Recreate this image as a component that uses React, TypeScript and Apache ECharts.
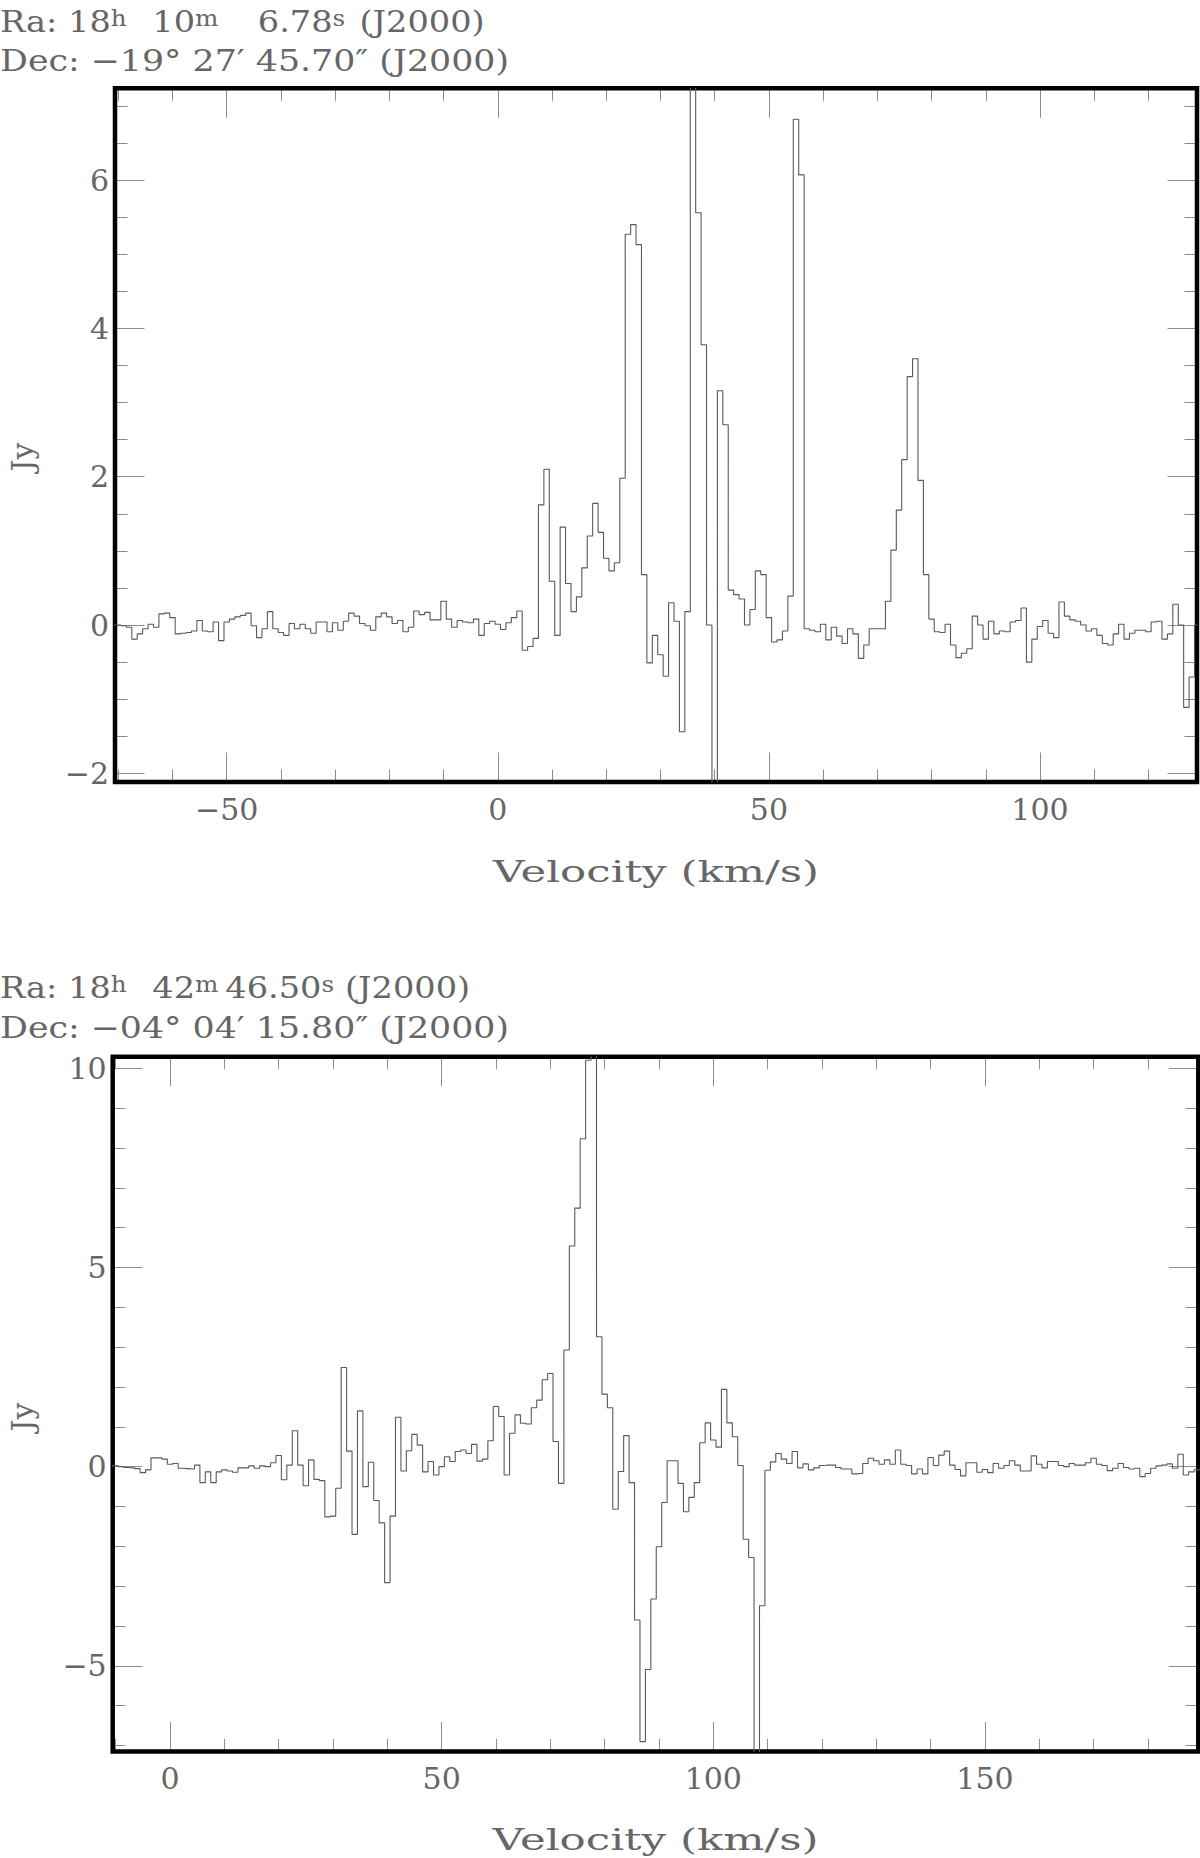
import React, { useEffect, useRef } from 'react';
import * as echarts from 'echarts';

// ---------------- data ----------------
const CHANNEL_WIDTH = 1; // km/s per channel

// Top spectrum: channel centres from -71 km/s, step CHANNEL_WIDTH
const TOP_VELOCITY_START = -71;
const TOP_FLUX = [
  0.00, 0.00, -0.01, -0.03, -0.19, -0.12, -0.05, 0.01, -0.03, 0.15,
  0.16, 0.10, -0.12, -0.11, -0.10, -0.08, 0.06, -0.08, -0.09, 0.04,
  -0.21, 0.04, 0.08, 0.11, 0.13, 0.16, -0.01, -0.17, -0.05, 0.18,
  -0.05, -0.10, -0.14, 0.02, -0.05, 0.01, -0.05, -0.11, 0.04, 0.04,
  -0.09, 0.03, -0.07, 0.05, 0.16, 0.12, 0.02, -0.01, -0.07, 0.11,
  0.16, 0.11, 0.02, 0.06, -0.09, -0.03, 0.19, 0.14, 0.17, 0.07,
  0.07, 0.32, 0.08, -0.03, 0.06, 0.04, 0.03, 0.08, -0.14, 0.02,
  0.05, 0.01, -0.06, 0.03, 0.10, 0.19, -0.34, -0.29, -0.18, 1.62,
  2.10, 0.59, -0.14, 1.32, 0.56, 0.18, 0.38, 0.77, 1.20, 1.64,
  1.25, 0.90, 0.73, 0.84, 1.98, 5.27, 5.40, 5.13, 0.68, -0.51,
  -0.14, -0.40, -0.69, 0.30, 0.05, -1.44, 0.18, 7.80, 5.56, 3.78,
  0.00, -2.80, 3.16, 2.70, 0.47, 0.41, 0.35, 0.00, 0.21, 0.73,
  0.68, 0.10, -0.23, -0.20, -0.08, 0.39, 6.82, 6.07, -0.05, -0.07,
  -0.09, 0.01, -0.20, -0.03, -0.15, -0.25, -0.05, -0.12, -0.45, -0.27,
  -0.05, -0.05, -0.05, 0.32, 1.01, 1.55, 2.23, 3.35, 3.59, 1.95,
  0.68, 0.08, -0.09, -0.10, 0.01, -0.27, -0.44, -0.38, -0.32, 0.12,
  0.00, -0.19, 0.05, -0.12, -0.08, -0.09, 0.04, 0.06, 0.23, -0.50,
  -0.19, -0.02, 0.06, -0.11, -0.17, 0.31, 0.12, 0.07, 0.05, 0.00,
  -0.08, -0.05, -0.14, -0.25, -0.27, -0.12, 0.01, -0.19, -0.11, -0.07,
  -0.07, -0.09, 0.04, 0.05, -0.19, -0.12, 0.28, 0.00, -1.11, -0.70, 0.00,
];

// Bottom spectrum: channel centres from -11 km/s, step CHANNEL_WIDTH
const BOTTOM_VELOCITY_START = -11;
const BOTTOM_FLUX = [
  0.02, 0.02, 0.00, -0.02, -0.03, -0.05, -0.15, -0.08, 0.22, 0.22,
  0.19, 0.06, 0.08, -0.04, -0.05, -0.06, 0.04, -0.40, -0.13, -0.40,
  -0.13, -0.08, -0.11, -0.14, -0.03, -0.03, 0.02, -0.04, 0.02, 0.00,
  0.10, 0.28, -0.33, 0.04, 0.90, 0.04, -0.48, 0.17, -0.32, -0.35,
  -1.26, -1.24, -0.54, 2.49, 0.39, -1.70, 1.40, -0.50, 0.11, -0.85,
  -1.41, -2.91, -1.24, 1.24, -0.11, 0.40, 0.81, 0.54, -0.13, 0.13,
  -0.21, 0.00, 0.25, 0.13, 0.38, 0.42, 0.33, 0.56, 0.14, 0.19,
  0.65, 1.51, 1.26, -0.21, 0.84, 1.30, 1.09, 1.07, 1.48, 1.67,
  2.18, 2.34, 0.63, -0.42, 2.93, 5.54, 6.49, 8.23, 10.20, 10.50,
  3.26, 1.82, 1.48, -1.07, -0.12, 0.78, -0.40, -3.85, -6.90, -5.09,
  -3.32, -2.01, -0.90, 0.15, 0.15, -0.42, -1.13, -0.77, -0.40, 0.60,
  1.10, 0.67, 0.49, 1.94, 1.10, 0.75, 0.03, -1.82, -2.28, -7.60,
  -3.49, -0.09, 0.12, 0.33, 0.19, 0.08, 0.38, -0.03, 0.07, -0.08,
  -0.03, 0.03, 0.04, 0.04, -0.02, -0.06, -0.06, -0.18, -0.17, 0.08,
  0.21, 0.15, 0.06, 0.17, 0.06, 0.42, 0.06, 0.03, -0.18, -0.06,
  -0.18, 0.23, 0.03, 0.29, 0.39, 0.04, -0.07, -0.23, 0.10, 0.10,
  -0.14, -0.07, -0.15, 0.08, -0.04, 0.03, 0.15, 0.04, -0.11, -0.11,
  0.27, 0.06, -0.03, 0.13, 0.13, 0.03, 0.00, 0.08, 0.04, 0.04,
  0.10, 0.21, 0.06, 0.03, -0.10, -0.04, 0.08, -0.02, -0.06, -0.04,
  -0.25, -0.17, -0.04, 0.02, 0.04, 0.07, -0.04, 0.31, -0.21, -0.13, -0.08, -0.08,
];

// Header texts (normal part, superscript, normal, superscript, ...)
const TOP_RA_PARTS = ['Ra: 18', 'h', '10', 'm', '6.78', 's', '(J2000)'];
const TOP_DEC = 'Dec: \u221219\u00b0 27\u2032 45.70\u2033 (J2000)';
const BOTTOM_RA_PARTS = ['Ra: 18', 'h', '42', 'm', '46.50', 's', '(J2000)'];
const BOTTOM_DEC = 'Dec: \u221204\u00b0 04\u2032 15.80\u2033 (J2000)';
const X_TITLE = 'Velocity (km/s)';
const Y_TITLE = 'Jy';

// Tick definitions [min, max, step]
const TOP_X_MINOR = [-70, 120, 10];
const TOP_X_MAJOR = [-50, 100, 50];
const TOP_Y_MINOR = [-2, 7, 0.5];
const TOP_Y_MAJOR = [-2, 6, 2];
const BOTTOM_X_MINOR = [-10, 180, 10];
const BOTTOM_X_MAJOR = [0, 150, 50];
const BOTTOM_Y_MINOR = [-7, 10, 1];
const BOTTOM_Y_MAJOR = [-5, 10, 5];

// ---------------- style / layout ----------------
const FONT = 'DejaVu Serif';
const TEXT_COLOR = '#666666';
const TICK_COLOR = '#8c8c8c';
const LINE_COLOR = '#5a5a5a';
const MINOR_LEN = 12.5;
const MAJOR_LEN = 29.5;

const fmt = (v: number) => (v < 0 ? '\u2212' + String(Math.abs(v)) : String(v));

const PANELS = [
  {
    frame: { left: 115, top: 88.3, width: 1082, height: 693.7 },
    xExtent: [-70.6, 128.96],
    yExtent: [-2.117, 7.238],
    xMinor: TOP_X_MINOR, xMajor: TOP_X_MAJOR, yMinor: TOP_Y_MINOR, yMajor: TOP_Y_MAJOR,
    vStart: TOP_VELOCITY_START, flux: TOP_FLUX,
    raParts: TOP_RA_PARTS, supWidths: [37, 56, 24], dec: TOP_DEC,
    raY: 22, decY: 60.5, raScale: 1.12, decScale: 1.16,
    jy: [22, 457], title: [656, 872],
  },
  {
    frame: { left: 112.7, top: 1056.7, width: 1085.6, height: 694.8 },
    xExtent: [-10.55, 189.27],
    yExtent: [-7.149, 10.29],
    xMinor: BOTTOM_X_MINOR, xMajor: BOTTOM_X_MAJOR, yMinor: BOTTOM_Y_MINOR, yMajor: BOTTOM_Y_MAJOR,
    vStart: BOTTOM_VELOCITY_START, flux: BOTTOM_FLUX,
    raParts: BOTTOM_RA_PARTS, supWidths: [37, 27, 21], dec: BOTTOM_DEC,
    raY: 988, decY: 1028, raScale: 1.12, decScale: 1.16,
    jy: [22, 1417], title: [655.5, 1840],
  },
];

function subRect(p: any, xa: number, xb: number, ya: number, yb: number) {
  const { left, top, width, height } = p.frame;
  const [x0, x1] = p.xExtent;
  const [y0, y1] = p.yExtent;
  const sx = width / (x1 - x0);
  const sy = height / (y1 - y0);
  return {
    left: left + (xa - x0) * sx,
    width: (xb - xa) * sx,
    top: top + (y1 - yb) * sy,
    height: (yb - ya) * sy,
  };
}

function tickAxis(g: number, position: string, t: number[], len: number, label: 'x' | 'y' | null) {
  return {
    type: 'value',
    gridIndex: g,
    position,
    min: t[0],
    max: t[1],
    interval: t[2],
    axisLine: { show: false, onZero: false },
    splitLine: { show: false },
    minorTick: { show: false },
    minorSplitLine: { show: false },
    axisTick: { show: true, inside: true, length: len, lineStyle: { color: TICK_COLOR, width: 1 } },
    axisLabel: label
      ? {
          show: true,
          inside: false,
          margin: label === 'x' ? 12 : 6,
          fontFamily: FONT,
          fontSize: 30,
          color: TEXT_COLOR,
          formatter: fmt,
          showMinLabel: true,
          showMaxLabel: true,
        }
      : { show: false },
  };
}

const hidden = (g: number) => ({ type: 'value', gridIndex: g, min: 0, max: 1, show: false, axisLine: { onZero: false } });

function buildOption() {
  const grid: any[] = [];
  const xAxis: any[] = [];
  const yAxis: any[] = [];
  const series: any[] = [];
  const graphic: any[] = [];

  PANELS.forEach((p) => {
    // data grid with thick frame
    const g0 = grid.length;
    grid.push({ ...p.frame, show: true, borderColor: '#000', borderWidth: 4.5, backgroundColor: 'rgba(0,0,0,0)', containLabel: false, z: 1 });
    const xi = xAxis.length;
    xAxis.push({ type: 'value', gridIndex: g0, min: p.xExtent[0], max: p.xExtent[1], show: false, splitLine: { show: false }, axisLine: { onZero: false } });
    const yi = yAxis.length;
    yAxis.push({ type: 'value', gridIndex: g0, min: p.yExtent[0], max: p.yExtent[1], show: false, splitLine: { show: false }, axisLine: { onZero: false } });
    series.push({
      type: 'line',
      xAxisIndex: xi,
      yAxisIndex: yi,
      step: 'middle',
      symbol: 'none',
      showSymbol: false,
      clip: true,
      silent: true,
      lineStyle: { color: LINE_COLOR, width: 1.1 },
      data: p.flux.map((f: number, i: number) => [p.vStart + i * CHANNEL_WIDTH, f]),
    });

    // x tick grids (minor, major)
    ([[p.xMinor, MINOR_LEN, false], [p.xMajor, MAJOR_LEN, true]] as any[]).forEach(([t, len, lab]) => {
      const g = grid.length;
      grid.push({ ...subRect(p, t[0], t[1], p.yExtent[0], p.yExtent[1]), show: false, containLabel: false });
      xAxis.push(tickAxis(g, 'bottom', t, len, lab ? 'x' : null));
      xAxis.push(tickAxis(g, 'top', t, len, null));
      yAxis.push(hidden(g));
    });
    // y tick grids (minor, major)
    ([[p.yMinor, MINOR_LEN, false], [p.yMajor, MAJOR_LEN, true]] as any[]).forEach(([t, len, lab]) => {
      const g = grid.length;
      grid.push({ ...subRect(p, p.xExtent[0], p.xExtent[1], t[0], t[1]), show: false, containLabel: false });
      yAxis.push(tickAxis(g, 'left', t, len, lab ? 'y' : null));
      yAxis.push(tickAxis(g, 'right', t, len, null));
      xAxis.push(hidden(g));
    });

    // header: Ra line with superscripts
    const [n0, s0, n1, s1, n2, s2, n3] = p.raParts;
    const supStyle = (w: number) => ({ fontSize: 22, fontFamily: FONT, fill: TEXT_COLOR, lineHeight: 22, verticalAlign: 'top', width: w });
    graphic.push({
      type: 'text',
      x: 0,
      y: p.raY,
      scaleX: p.raScale,
      silent: true,
      style: {
        text: `{n|${n0}}{a|${s0}}{n|${n1}}{b|${s1}}{n|${n2}}{c|${s2}}{n|${n3}}`,
        rich: {
          n: { fontSize: 30, fontFamily: FONT, fill: TEXT_COLOR, lineHeight: 30 },
          a: supStyle(p.supWidths[0]),
          b: supStyle(p.supWidths[1]),
          c: supStyle(p.supWidths[2]),
        },
        fill: TEXT_COLOR,
        fontSize: 30,
        fontFamily: FONT,
        align: 'left',
        verticalAlign: 'middle',
      },
    });
    graphic.push({
      type: 'text',
      x: 0,
      y: p.decY,
      scaleX: p.decScale,
      silent: true,
      style: { text: p.dec, fontSize: 30, fontFamily: FONT, fill: TEXT_COLOR, align: 'left', verticalAlign: 'middle' },
    });
    graphic.push({
      type: 'text',
      x: p.jy[0],
      y: p.jy[1],
      rotation: Math.PI / 2,
      silent: true,
      style: { text: Y_TITLE, fontSize: 30, fontFamily: FONT, fill: TEXT_COLOR, align: 'center', verticalAlign: 'middle' },
    });
    graphic.push({
      type: 'text',
      x: p.title[0],
      y: p.title[1],
      scaleX: 1.45,
      silent: true,
      style: { text: X_TITLE, fontSize: 30, fontFamily: FONT, fill: TEXT_COLOR, align: 'center', verticalAlign: 'middle' },
    });
  });

  return {
    animation: false,
    backgroundColor: '#ffffff',
    textStyle: { fontFamily: FONT },
    grid,
    xAxis,
    yAxis,
    series,
    graphic,
  };
}

export default function App() {
  const ref = useRef<HTMLDivElement>(null);
  useEffect(() => {
    if (!ref.current) return;
    const chart = echarts.init(ref.current, null, { renderer: 'svg' });
    chart.setOption(buildOption() as any);
    return () => chart.dispose();
  }, []);
  return (
    <div
      ref={ref}
      style={{ position: 'absolute', left: 0, top: 0, width: 1200, height: 1858, background: '#fff' }}
    />
  );
}
